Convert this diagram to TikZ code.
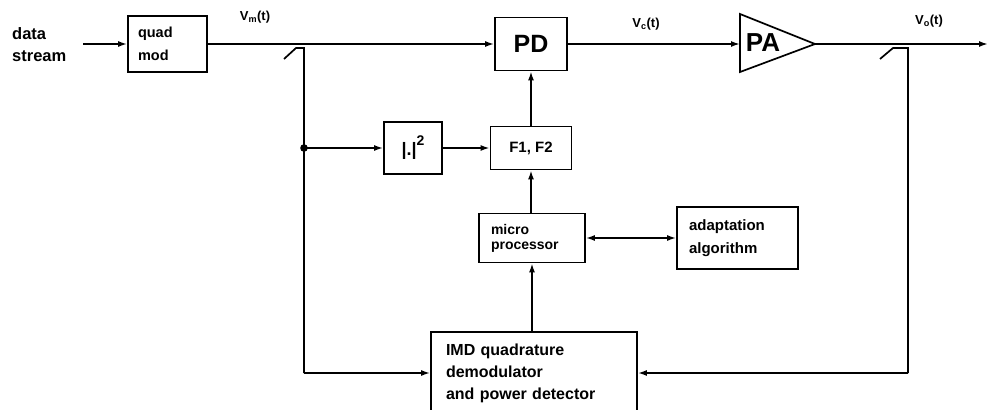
\documentclass[tikz,border=0pt]{standalone}
\usepackage{fontspec}
\setmainfont{Liberation Sans}
\usetikzlibrary{arrows.meta}
\newcommand{\fs}[2]{\fontsize{#1}{#2}\selectfont}
\begin{document}
\begin{tikzpicture}[x=1pt,y=-1pt,
  ln/.style={line width=1.7pt},
  arr/.style={ln,-{Latex[length=9pt,width=6pt]}},
  barr/.style={ln,{Latex[length=9pt,width=6pt]}-{Latex[length=9pt,width=6pt]}},
  blk/.style={draw,line width=1.7pt,inner ysep=0pt,align=left},
  lbl/.style={font=\bfseries\fs{13}{15}, inner sep=0pt}]
\useasboundingbox (0,0) rectangle (989,410);
\clip (0,0) rectangle (989,410);

% blocks
\node[align=left, anchor=west, font=\bfseries\fs{16.5}{22}, inner sep=0pt] (ds) at (12,45) {data\\stream};
\node[blk, text width=59pt, inner xsep=10pt, minimum height=56pt, font=\bfseries\fs{14.5}{23}] (qm) at (167.5,44) {quad\\mod};
\node[blk, minimum width=72pt, minimum height=53pt, inner sep=0pt, font=\bfseries\fs{25}{28}] (pd) at (531,44) {PD};
\node[blk, minimum width=81pt, minimum height=43pt, inner sep=0pt, font=\bfseries\fs{15}{18}] (ff) at (531,148) {F1, F2};
\node[blk, minimum width=58pt, minimum height=52pt, inner sep=0pt] (sq) at (413,148) {{\bfseries\fs{18}{18}|.|}\raisebox{10pt}{\bfseries\fs{14}{14}2}};
\node[blk, text width=82pt, inner xsep=12pt, minimum height=49pt, font=\bfseries\fs{14}{15}] (mp) at (532,238) {micro\\processor};
\node[blk, text width=97pt, inner xsep=12pt, minimum height=62pt, font=\bfseries\fs{15}{23}] (ad) at (737.5,238) {adaptation\\algorithm};
\node[blk, text width=176pt, inner xsep=15pt, minimum height=82pt, font=\bfseries\fs{16}{22}] (imd) at (534,373) {IMD quadrature\\demodulator\\and power detector};

% power amplifier
\coordinate (pa1) at (740,44);
\coordinate (pa2) at (815,44);
\draw[ln, line join=miter] (740,14) -- (pa2) -- (740,72) -- cycle;
\node[font=\bfseries\fs{26}{28}, inner sep=0pt] (pa) at (763,43) {PA};

% signal labels
\node[lbl] (vm) at (255,17) {V\textsubscript{m}(t)};
\node[lbl] (vc) at (646,24) {V\textsubscript{c}(t)};
\node[lbl] (vo) at (929,21) {V\textsubscript{o}(t)};

% main path
\coordinate (in) at (83,44);
\coordinate (out) at (988,44);
\draw[arr] (in) -- (qm.west);
\draw[arr] (qm.east) -- (pd.west);
\draw[arr] (pd.east) -- (pa1);
\draw[arr] (pa2) -- (out);

% left coupler and feedback
\coordinate (cL) at (304,48);
\coordinate (jn) at (304,148);
\coordinate (bL) at (304,373);
\draw[ln] (284,59) -- (296,48) -- (cL) -- (bL);
\draw[arr] (bL) -- (imd.west);
\fill (jn) circle (3.8pt);
\draw[arr] (jn) -- (sq.west);
\draw[arr] (sq.east) -- (ff.west);
\draw[arr] (ff.north) -- (pd.south);
\draw[arr] (mp.north -| ff.south) -- (ff.south);
\draw[barr] (mp.east) -- (ad.west);
\draw[arr] (imd.north -| mp.south) -- (mp.south);

% right coupler and feedback
\coordinate (cR) at (908,48);
\coordinate (bR) at (908,373);
\draw[ln] (880,59) -- (893,48) -- (cR) -- (bR);
\draw[arr] (bR) -- (imd.east);
\end{tikzpicture}
\end{document}
